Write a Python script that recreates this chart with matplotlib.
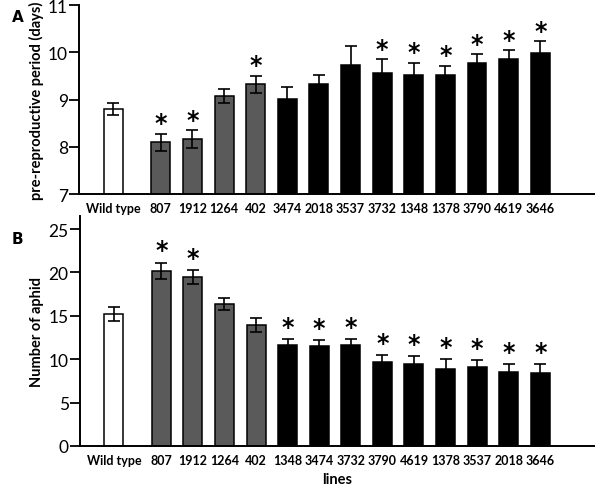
import matplotlib
matplotlib.use("Agg")
import matplotlib.pyplot as plt
import numpy as np

plt.rcParams["font.family"] = ["Lato", "DejaVu Sans"]

# panel A: pre-reproductive period (days)
a_lines = ["Wild type", "807", "1912", "1264", "402", "3474", "2018", "3537",
           "3732", "1348", "1378", "3790", "4619", "3646"]
a_mean = [8.80, 8.10, 8.16, 9.08, 9.32, 9.01, 9.32, 9.73, 9.56, 9.52, 9.52, 9.78, 9.85, 9.99]
a_err = [0.13, 0.18, 0.19, 0.15, 0.19, 0.25, 0.20, 0.41, 0.29, 0.26, 0.20, 0.18, 0.19, 0.25]
a_sig = [0, 1, 1, 0, 1, 0, 0, 0, 1, 1, 1, 1, 1, 1]

# panel B: number of aphids
b_lines = ["Wild type", "807", "1912", "1264", "402", "1348", "3474", "3732",
           "3790", "4619", "1378", "3537", "2018", "3646"]
b_mean = [15.2, 20.2, 19.5, 16.4, 13.9, 11.6, 11.5, 11.6, 9.7, 9.5, 8.9, 9.1, 8.5, 8.4]
b_err = [0.80, 0.95, 0.80, 0.70, 0.80, 0.75, 0.75, 0.70, 0.77, 0.90, 1.10, 0.82, 0.94, 1.05]
b_sig = [0, 1, 1, 0, 0, 1, 1, 1, 1, 1, 1, 1, 1, 1]

# line groups: wild type, 4 grey lines, 9 black lines
group = ["wt"] + ["grey"] * 4 + ["black"] * 9
colors = {"wt": "white", "grey": "#5a5a5a", "black": "black"}

pos = np.array([0.0] + [1.5 + k for k in range(13)])


def panel(ax, labels, mean, err, sig, ylim, yticks, ylabel, star_pad):
    fc = [colors[g] for g in group]
    ax.bar(pos, mean, width=0.6, color=fc, edgecolor="black", linewidth=1.1, zorder=2)
    ax.errorbar(pos, mean, yerr=err, fmt="none", ecolor="black", elinewidth=1.2,
                capsize=4, capthick=1.2, zorder=3)
    for x, m, e, s in zip(pos, mean, err, sig):
        if s:
            ax.text(x, m + e + star_pad, "*", ha="center", va="center",
                    fontsize=17, fontweight="bold", family="DejaVu Sans")
    ax.set_xlim(-1.08, 15.2)
    ax.set_ylim(*ylim)
    ax.set_yticks(yticks)
    ax.set_xticks(pos)
    ax.set_xticklabels(labels, fontsize=9, fontweight="bold")
    ax.tick_params(axis="x", length=0, pad=6)
    ax.tick_params(axis="y", length=7, width=1.3, labelsize=12.5, pad=1)
    for sp in ("top", "right"):
        ax.spines[sp].set_visible(False)
    for sp in ("left", "bottom"):
        ax.spines[sp].set_linewidth(1.4)
    ax.set_ylabel(ylabel, fontsize=10.5, fontweight="bold", labelpad=3)


fig = plt.figure(figsize=(6.0, 4.89), dpi=100)

ax_a = fig.add_axes([0.132, 0.601, 0.858, 0.3865])
panel(ax_a, a_lines, a_mean, a_err, a_sig, (7, 11), [7, 8, 9, 10, 11],
      "pre-reproductive period (days)", 0.22)

ax_b = fig.add_axes([0.133, 0.086, 0.857, 0.470])
panel(ax_b, b_lines, b_mean, b_err, b_sig, (0, 26.5), [0, 5, 10, 15, 20, 25],
      "Number of aphid", 1.4)
ax_b.set_xlabel("lines", fontsize=10.5, fontweight="bold", labelpad=4)

fig.text(0.02, 0.955, "A", fontsize=11, fontweight="bold", family="DejaVu Sans")
fig.text(0.02, 0.50, "B", fontsize=11, fontweight="bold", family="DejaVu Sans")

fig.savefig("out.png", dpi=100)
